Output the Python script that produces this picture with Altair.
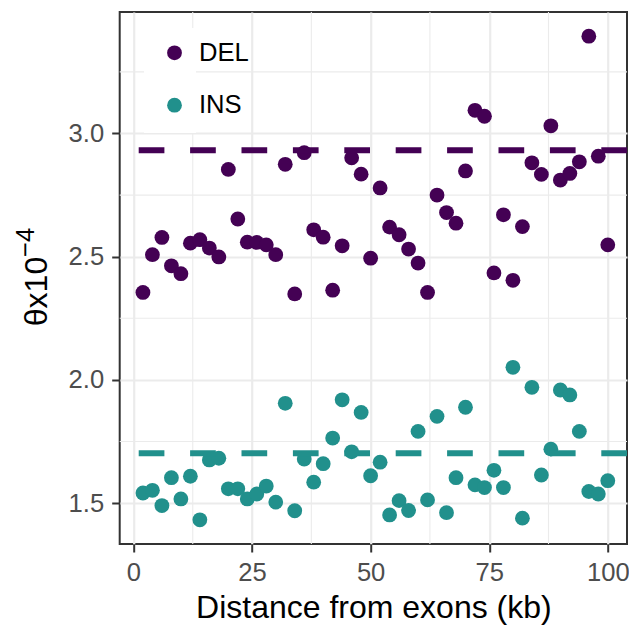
import altair as alt
import pandas as pd

# ---- data ----
distance_kb = [2, 4, 6, 8, 10, 12, 14, 16, 18, 20,
               22, 24, 26, 28, 30, 32, 34, 36, 38, 40,
               42, 44, 46, 48, 50, 52, 54, 56, 58, 60,
               62, 64, 66, 68, 70, 72, 74, 76, 78, 80,
               82, 84, 86, 88, 90, 92, 94, 96, 98, 100]

del_theta = [2.355, 2.508, 2.578, 2.463, 2.431, 2.555, 2.569, 2.535, 2.499, 2.854,
             2.653, 2.559, 2.558, 2.548, 2.508, 2.875, 2.349, 2.922, 2.609, 2.579,
             2.364, 2.544, 2.901, 2.835, 2.494, 2.779, 2.620, 2.589, 2.531, 2.474,
             2.355, 2.750, 2.679, 2.636, 2.848, 3.094, 3.070, 2.434, 2.670, 2.404,
             2.622, 2.881, 2.834, 3.031, 2.811, 2.838, 2.885, 3.395, 2.908, 2.548]

ins_theta = [1.541, 1.552, 1.490, 1.603, 1.517, 1.609, 1.432, 1.675, 1.682, 1.558,
             1.558, 1.517, 1.537, 1.569, 1.504, 1.905, 1.469, 1.679, 1.585, 1.660,
             1.764, 1.919, 1.708, 1.868, 1.611, 1.666, 1.452, 1.510, 1.470, 1.791,
             1.513, 1.852, 1.461, 1.603, 1.889, 1.574, 1.563, 1.633, 1.563, 2.051,
             1.439, 1.970, 1.614, 1.719, 1.959, 1.939, 1.791, 1.547, 1.537, 1.591]

series_names = ["DEL", "INS"]
series_colors = ["#440154", "#21908C"]
ref_theta = [2.932, 1.702]

x_major = [0, 25, 50, 75, 100]
x_minor = [12.5, 37.5, 62.5, 87.5]
y_major = [1.5, 2.0, 2.5, 3.0]
y_minor = [1.75, 2.25, 2.75, 3.25]
x_domain = [-2.9, 104.05]
y_domain = [1.334, 3.493]

x_title = "Distance from exons (kb)"
y_title_main = "θx10"
y_title_exp = "−4"

FONT = "Liberation Sans"
W, H = 507.3, 532

# ---- tables ----
points_df = pd.DataFrame({
    "distance": distance_kb + distance_kb,
    "theta": del_theta + ins_theta,
    "type": [series_names[0]] * len(del_theta) + [series_names[1]] * len(ins_theta),
})
ref_df = pd.DataFrame({"type": series_names, "theta": ref_theta})
xminor_df = pd.DataFrame({"distance": x_minor})
yminor_df = pd.DataFrame({"theta": y_minor})
one_row = pd.DataFrame({"main": [y_title_main], "exp": [y_title_exp]})

xscale = alt.Scale(domain=x_domain, nice=False, zero=False)
yscale = alt.Scale(domain=y_domain, nice=False, zero=False)
cscale = alt.Scale(domain=series_names, range=series_colors)

x_axis = alt.Axis(values=x_major, title=x_title, format="d")
y_axis = alt.Axis(values=y_major, title=None, format=".1f")

grid_color = "#EBEBEB"

minor_x = alt.Chart(xminor_df).mark_rule(color=grid_color, strokeWidth=1.1).encode(
    x=alt.X("distance:Q", scale=xscale, axis=x_axis)
)
minor_y = alt.Chart(yminor_df).mark_rule(color=grid_color, strokeWidth=1.1).encode(
    y=alt.Y("theta:Q", scale=yscale, axis=y_axis)
)

legend_bg = alt.Chart(one_row).mark_rect(color="white").encode(
    x=alt.value(24.3), x2=alt.value(76.3), y=alt.value(16), y2=alt.value(121)
)

points = alt.Chart(points_df).mark_circle(size=219, opacity=1).encode(
    x=alt.X("distance:Q", scale=xscale, axis=x_axis),
    y=alt.Y("theta:Q", scale=yscale, axis=y_axis),
    color=alt.Color("type:N", scale=cscale,
                    legend=alt.Legend(title=None, orient="none", legendX=42, legendY=28,
                                      direction="vertical")),
)

ref_lines = alt.Chart(ref_df).mark_rule(strokeWidth=6, strokeDash=[25.7, 25.7]).encode(
    y=alt.Y("theta:Q", scale=yscale, axis=y_axis),
    color=alt.Color("type:N", scale=cscale, legend=None),
)

ytitle_main = alt.Chart(one_row).mark_text(
    angle=270, align="center", baseline="alphabetic", font=FONT, fontSize=32, color="black"
).encode(x=alt.value(-72.7), y=alt.value(279.5), text="main:N")

ytitle_exp = alt.Chart(one_row).mark_text(
    angle=270, align="left", baseline="alphabetic", font=FONT, fontSize=25.6, color="black"
).encode(x=alt.value(-85.7), y=alt.value(245), text="exp:N")

chart = alt.layer(
    minor_x, minor_y, legend_bg, points, ref_lines, ytitle_main, ytitle_exp
).properties(
    width=W, height=H,
    autosize=alt.AutoSizeParams(type="none"),
    padding={"left": 111.7, "top": 4, "right": 2, "bottom": 84},
).configure_view(
    stroke="#333333", strokeWidth=2
).configure_axis(
    domain=False,
    grid=True, gridColor=grid_color, gridWidth=2.2,
    tickColor="#333333", tickWidth=2, tickSize=8,
    labelFont=FONT, labelFontSize=25.6, labelColor="#4D4D4D", labelPadding=8,
    titleFont=FONT, titleFontSize=32, titleColor="black", titleFontWeight="normal",
    titlePadding=7,
).configure_legend(
    labelFont=FONT, labelFontSize=25.6, labelColor="black",
    symbolType="circle", symbolSize=219, symbolStrokeWidth=0,
    rowPadding=25.4, labelOffset=11.6, padding=0,
)

chart.save("out.html", embed_options={"renderer": "svg", "actions": False})
